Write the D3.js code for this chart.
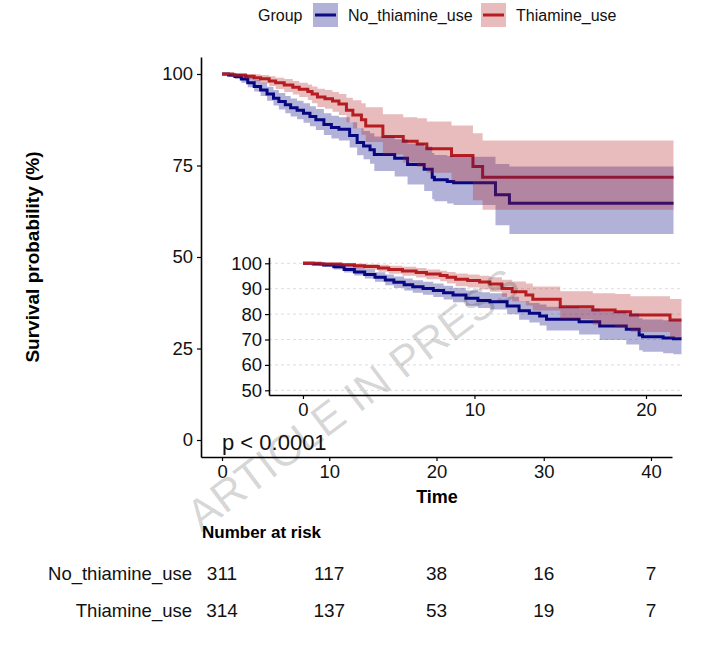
<!DOCTYPE html>
<html>
<head>
<meta charset="utf-8">
<script src="https://cdn.jsdelivr.net/npm/d3@7"></script>
<style>
  body { margin: 0; background: #fff; }
  svg text { font-family: "Liberation Sans", Arial, sans-serif; }
</style>
</head>
<body>
<svg id="chart" width="705" height="645"></svg>
<script>
// KM data (time in x units, survival in %)
var groups = ["No_thiamine_use", "Thiamine_use"];

var timeNo  = [0, 0.6, 1.2, 1.8, 2.4, 3.0, 3.6, 4.2, 4.8, 5.3, 5.9, 6.4, 7.0, 7.6, 8.2, 8.75, 9.5, 10.2, 10.9, 11.9, 12.6, 13.2, 13.8, 14.2, 16.1, 17.3, 18.85, 19.6, 19.8, 21.0, 21.6, 25.5, 26.8, 42.1];
var survNo  = [100, 99.7, 99.3, 98.6, 97.6, 96.6, 95.6, 94.5, 93.4, 92.5, 91.6, 90.8, 90.1, 89.3, 88.4, 87.5, 86.2, 85.4, 84.9, 83.2, 81.3, 80.3, 79.3, 78.0, 77.0, 75.3, 74.0, 71.8, 71.1, 70.6, 70.3, 67.0, 64.7, 64.7];
var upperNo = [100, 100, 100, 99.7, 99.2, 98.4, 97.6, 96.5, 95.6, 94.8, 94.0, 93.3, 92.7, 92.0, 91.2, 90.4, 89.3, 88.6, 88.2, 86.8, 85.2, 84.4, 83.8, 82.9, 82.2, 81.0, 80.2, 78.4, 77.9, 77.6, 77.4, 75.4, 74.7, 74.7];
var lowerNo = [100, 99.2, 98.6, 97.6, 96.4, 95.2, 94.0, 92.7, 91.4, 90.3, 89.3, 88.4, 87.6, 86.7, 85.7, 84.7, 83.3, 82.4, 81.8, 79.9, 77.8, 76.7, 75.5, 73.5, 72.0, 69.8, 68.0, 65.8, 65.2, 64.6, 64.2, 58.7, 56.3, 56.3];

var timeTh  = [0, 1.0, 2.2, 3.0, 3.6, 4.4, 5.0, 5.8, 6.6, 7.2, 8.0, 8.4, 8.9, 9.6, 10.3, 10.9, 11.6, 12.2, 13.0, 13.4, 15.0, 16.9, 18.2, 19.1, 21.4, 23.4, 24.3, 42.1];
var survTh  = [100, 99.7, 99.4, 99.0, 98.7, 98.1, 97.6, 97.0, 96.4, 95.8, 95.2, 94.5, 93.7, 93.2, 92.6, 91.8, 90.1, 88.8, 87.5, 85.8, 82.9, 81.6, 80.9, 79.6, 77.7, 74.7, 71.8, 71.8];
var upperTh = [100, 100, 100, 99.9, 99.7, 99.4, 99.0, 98.6, 98.1, 97.6, 97.1, 96.6, 96.0, 95.6, 95.1, 94.5, 93.5, 92.8, 92.0, 90.9, 89.0, 88.2, 87.9, 87.0, 85.9, 83.8, 81.8, 81.8];
var lowerTh = [100, 99.1, 98.6, 98.0, 97.5, 96.7, 95.9, 95.1, 94.4, 93.7, 92.9, 92.0, 91.0, 90.5, 89.7, 88.8, 86.8, 85.1, 83.4, 81.4, 78.0, 75.8, 74.6, 73.0, 70.6, 65.5, 62.9, 62.9];

var mainTicksX = [0, 10, 20, 30, 40];
var mainTicksY = [0, 25, 50, 75, 100];
var insetTicksX = [0, 10, 20];
var insetTicksY = [50, 60, 70, 80, 90, 100];

var riskTimes = [0, 10, 20, 30, 40];
var riskNo = [311, 117, 38, 16, 7];
var riskTh = [314, 137, 53, 19, 7];

var pText = "p < 0.0001";

// styles
var lineCol = {No_thiamine_use: "#0b0b84", Thiamine_use: "#b81c22"};
var bandCol = {No_thiamine_use: "#000080", Thiamine_use: "#b22222"};
var bandAlpha = 0.3;

function toRows(t, s, lo, up) {
  return t.map((d, i) => ({time: d, surv: s[i], lower: lo[i], upper: up[i]}));
}
var series = [
  {group: "No_thiamine_use", rows: toRows(timeNo, survNo, lowerNo, upperNo)},
  {group: "Thiamine_use", rows: toRows(timeTh, survTh, lowerTh, upperTh)}
];

var svg = d3.select("#chart");

//SCALES
var x = d3.scaleLinear().domain([-1.96, 41.96]).range([201, 672]);
var y = d3.scaleLinear().domain([-4.64, 104.64]).range([457, 57]);

var xi = d3.scaleLinear().domain([-1.98, 22.07]).range([269, 681.5]);
var yi = d3.scaleLinear().domain([48.15, 102.36]).range([395, 257.3]);

function drawCurves(g, xs, ys, lw) {
  let line = d3.line().curve(d3.curveStepAfter).x(d => xs(d.time)).y(d => ys(d.surv));
  let area = d3.area().curve(d3.curveStepAfter).x(d => xs(d.time)).y0(d => ys(d.lower)).y1(d => ys(d.upper));
  g.selectAll("path.km").data(series).join("path")
    .attr("class", "km")
    .attr("d", d => line(d.rows))
    .attr("fill", "none")
    .attr("stroke", d => lineCol[d.group])
    .attr("stroke-width", lw);
  // ribbons go on top of the lines (as in the figure)
  g.selectAll("path.band").data(series).join("path")
    .attr("class", "band")
    .attr("d", d => area(d.rows))
    .attr("fill", d => bandCol[d.group])
    .attr("fill-opacity", bandAlpha);
}

//MAIN PANEL
var mainG = svg.append("g");
drawCurves(mainG, x, y, 3);

var axX = svg.append("g").attr("transform", "translate(0,457)")
  .call(d3.axisBottom(x).tickValues(mainTicksX).tickSize(4).tickPadding(4).tickSizeOuter(0));
var axY = svg.append("g").attr("transform", "translate(201,0)")
  .call(d3.axisLeft(y).tickValues(mainTicksY).tickSize(4).tickPadding(4).tickSizeOuter(0));

[axX, axY].forEach(a => {
  a.select(".domain").attr("stroke", "#000").attr("stroke-width", 1.6);
  a.selectAll(".tick line").attr("stroke", "#000").attr("stroke-width", 1.2);
  a.selectAll(".tick text").attr("fill", "#111").style("font-size", "18.5px");
});

svg.append("text")
  .attr("x", 222).attr("y", 450)
  .style("font-size", "22px").attr("fill", "#111")
  .text(pText);

svg.append("text")
  .attr("x", 437).attr("y", 503)
  .attr("text-anchor", "middle")
  .style("font-size", "18px").style("font-weight", "bold")
  .text("Time");

svg.append("text")
  .attr("transform", "translate(39,257) rotate(-90)")
  .attr("text-anchor", "middle")
  .style("font-size", "19px").style("font-weight", "bold")
  .text("Survival probability (%)");

//INSET
var inset = svg.append("g");
inset.append("rect")
  .attr("x", 269).attr("y", 257.3)
  .attr("width", 681.5 - 269).attr("height", 395 - 257.3)
  .attr("fill", "#fff");

inset.append("clipPath").attr("id", "insetClip")
  .append("rect")
  .attr("x", 269).attr("y", 257.3)
  .attr("width", 681.5 - 269).attr("height", 395 - 257.3);

inset.selectAll("line.grid").data(insetTicksY).join("line")
  .attr("class", "grid")
  .attr("x1", 269).attr("x2", 681.5)
  .attr("y1", d => yi(d)).attr("y2", d => yi(d))
  .attr("stroke", "#d4d4d4").attr("stroke-width", 0.8)
  .attr("stroke-dasharray", "3,3");

var insetCurves = inset.append("g").attr("clip-path", "url(#insetClip)");
drawCurves(insetCurves, xi, yi, 3);

var iaxX = inset.append("g").attr("transform", "translate(0,395)")
  .call(d3.axisBottom(xi).tickValues(insetTicksX).tickSize(4).tickPadding(4).tickSizeOuter(0));
var iaxY = inset.append("g").attr("transform", "translate(269,0)")
  .call(d3.axisLeft(yi).tickValues(insetTicksY).tickSize(4).tickPadding(3).tickSizeOuter(0));
[iaxX, iaxY].forEach(a => {
  a.select(".domain").attr("stroke", "#000").attr("stroke-width", 1.6);
  a.selectAll(".tick line").attr("stroke", "#000").attr("stroke-width", 1.2);
  a.selectAll(".tick text").attr("fill", "#111").style("font-size", "18.5px");
});

//WATERMARK
svg.append("text")
  .attr("transform", "translate(355,402) rotate(-37)")
  .attr("text-anchor", "middle")
  .attr("dominant-baseline", "middle")
  .style("font-size", "44px")
  .attr("fill", "#000").attr("fill-opacity", 0.16)
  .text("ARTICLE IN PRESS");

//LEGEND
var legend = svg.append("g");
legend.append("text")
  .attr("x", 258).attr("y", 21)
  .style("font-size", "16px").attr("fill", "#111")
  .text("Group");

var legX = [313, 481];
var legItems = legend.selectAll("g.item").data(groups).join("g")
  .attr("class", "item")
  .attr("transform", (d, i) => "translate(" + legX[i] + ",3)");
legItems.append("rect")
  .attr("width", 25).attr("height", 24)
  .attr("fill", d => bandCol[d]).attr("fill-opacity", bandAlpha);
legItems.append("line")
  .attr("x1", 2).attr("x2", 23).attr("y1", 12).attr("y2", 12)
  .attr("stroke", d => lineCol[d]).attr("stroke-width", 3);
legItems.append("text")
  .attr("x", 35).attr("y", 18)
  .style("font-size", "16px").attr("fill", "#111")
  .text(d => d);

//RISK TABLE
svg.append("text")
  .attr("x", 202).attr("y", 538)
  .style("font-size", "17px").style("font-weight", "bold")
  .text("Number at risk");

var riskRows = [riskNo, riskTh];
var rowY = [575, 612];
riskRows.forEach(function(vals, r) {
  svg.append("text")
    .attr("x", 192).attr("y", rowY[r])
    .attr("text-anchor", "end").attr("dominant-baseline", "middle")
    .style("font-size", "18.5px").attr("fill", "#111")
    .text(groups[r]);
  svg.selectAll("text.risk" + r).data(vals).join("text")
    .attr("class", "risk" + r)
    .attr("x", (d, i) => x(riskTimes[i]))
    .attr("y", rowY[r])
    .attr("text-anchor", "middle").attr("dominant-baseline", "middle")
    .style("font-size", "19px").attr("fill", "#111")
    .text(d => d);
});
</script>
</body>
</html>
